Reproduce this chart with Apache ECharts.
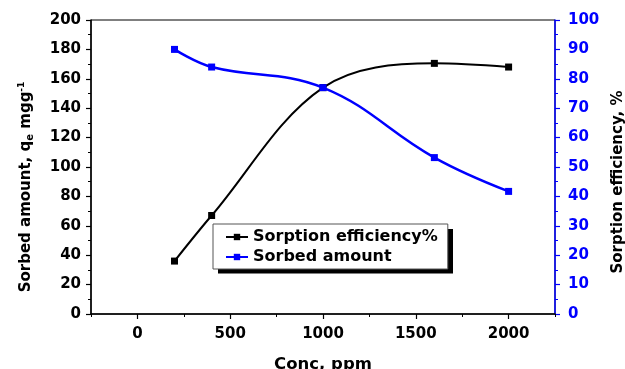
<!DOCTYPE html>
<html>
<head>
<meta charset="utf-8">
<script src="https://cdn.jsdelivr.net/npm/echarts@6/dist/echarts.min.js"></script>
<style>
  html, body { margin: 0; padding: 0; background: #fff; }
  #chart { width: 625px; height: 369px; }
</style>
</head>
<body>
<div id="chart"></div>
<script>
// Sorbed amount (left axis, mg/g) vs initial concentration
const sorbedConc = [200, 400, 1000, 1600, 2000];
const sorbedValues = [36, 67, 154, 170.5, 168];

// Sorption efficiency (right axis, %) vs initial concentration
const effConc = [200, 400, 1000, 1600, 2000];
const effValues = [90, 84, 77, 53.2, 41.7];

// Axis tick labels
const xMajorTicks = [0, 500, 1000, 1500, 2000];
const xMinorTicks = [-250, 250, 750, 1250, 1750, 2250];

const legendNames = ['Sorption efficiency%', 'Sorbed amount'];

const FONT = '"DejaVu Sans", sans-serif';
const BLUE = '#0000ff';

// legend frame geometry (pixels)
const LEGEND_BOX = { x: 213, y: 224, w: 235, h: 44.5 };

const chart = echarts.init(document.getElementById('chart'), null, { renderer: 'canvas' });

const pairs = (xs, ys) => xs.map((x, i) => [x, ys[i]]);
const plain = v => String(v);

chart.setOption({
  animation: false,
  backgroundColor: '#fff',
  grid: {
    left: 91, right: 70, top: 20, bottom: 55,
    containLabel: false, outerBoundsMode: 'none',
    show: true, borderColor: '#000', borderWidth: 1
  },
  graphic: [
    {
      // drop shadow behind the legend frame
      type: 'rect', z: 1, silent: true,
      shape: { x: LEGEND_BOX.x + 5, y: LEGEND_BOX.y + 5, width: LEGEND_BOX.w, height: LEGEND_BOX.h },
      style: { fill: '#000' }
    }
  ],
  legend: {
    left: LEGEND_BOX.x, top: LEGEND_BOX.y,
    orient: 'vertical',
    data: legendNames,
    itemWidth: 22, itemHeight: 8, itemGap: 4,
    padding: [5, 10, 4, 12],
    backgroundColor: '#fff',
    borderColor: '#555', borderWidth: 1,
    z: 5,
    textStyle: { fontFamily: FONT, fontWeight: 'bold', fontSize: 16, color: '#000', lineHeight: 16 }
  },
  xAxis: [
    {
      type: 'value', min: -250, max: 2250,
      name: 'Conc, ppm', nameLocation: 'middle', nameGap: 42,
      nameTextStyle: { fontFamily: FONT, fontWeight: 'bold', fontSize: 16.5, color: '#000' },
      axisLine: { show: true, onZero: false, lineStyle: { color: '#000', width: 1.5 } },
      axisTick: { show: true, inside: false, length: 5, customValues: xMajorTicks, lineStyle: { color: '#000', width: 1.2 } },
      axisLabel: { customValues: xMajorTicks, formatter: plain, margin: 13, fontFamily: FONT, fontWeight: 'bold', fontSize: 15, color: '#000' },
      splitLine: { show: false }
    },
    {
      type: 'value', min: -250, max: 2250, position: 'bottom',
      axisLine: { show: false, onZero: false },
      axisTick: { show: true, inside: false, length: 3, customValues: xMinorTicks, lineStyle: { color: '#000', width: 1 } },
      axisLabel: { show: false },
      splitLine: { show: false }
    }
  ],
  yAxis: [
    {
      type: 'value', min: 0, max: 200, interval: 20, position: 'left',
      name: 'Sorbed amount, q{sub|e} mgg{sup|-1}',
      nameLocation: 'middle', nameRotate: 90, nameGap: 56,
      nameTextStyle: {
        fontFamily: FONT, fontWeight: 'bold', fontSize: 15, color: '#000',
        padding: [0, 40, 0, 0],
        rich: {
          sub: { fontFamily: FONT, fontWeight: 'bold', fontSize: 10, color: '#000', verticalAlign: 'bottom', padding: [7, 0, 0, 0] },
          sup: { fontFamily: FONT, fontWeight: 'bold', fontSize: 9, color: '#000', verticalAlign: 'top', padding: [0, 0, 9, 0] }
        }
      },
      axisLine: { show: true, onZero: false, lineStyle: { color: '#000', width: 1.5 } },
      axisTick: { show: true, inside: false, length: 5, lineStyle: { color: '#000', width: 1.2 } },
      minorTick: { show: true, splitNumber: 2, length: 3, lineStyle: { color: '#000', width: 1 } },
      axisLabel: { margin: 10, formatter: plain, fontFamily: FONT, fontWeight: 'bold', fontSize: 15, color: '#000' },
      splitLine: { show: false }
    },
    {
      type: 'value', min: 0, max: 100, interval: 10, position: 'right',
      name: 'Sorption efficiency, %',
      nameLocation: 'middle', nameRotate: 90, nameGap: 46,
      nameTextStyle: {
        fontFamily: FONT, fontWeight: 'bold', fontSize: 15, color: '#000',
        padding: [0, 30, 0, 0]
      },
      axisLine: { show: true, onZero: false, lineStyle: { color: BLUE, width: 1.5 } },
      axisTick: { show: true, inside: false, length: 5, lineStyle: { color: BLUE, width: 1.2 } },
      minorTick: { show: true, splitNumber: 2, length: 3, lineStyle: { color: BLUE, width: 1 } },
      axisLabel: { margin: 13, formatter: plain, fontFamily: FONT, fontWeight: 'bold', fontSize: 15, color: BLUE },
      splitLine: { show: false }
    }
  ],
  series: [
    {
      name: legendNames[0],
      type: 'line', xAxisIndex: 0, yAxisIndex: 0,
      data: pairs(sorbedConc, sorbedValues),
      smooth: 0.35,
      symbol: 'rect', symbolSize: 7,
      lineStyle: { color: '#000', width: 2 },
      itemStyle: { color: '#000' },
      z: 3
    },
    {
      name: legendNames[1],
      type: 'line', xAxisIndex: 0, yAxisIndex: 1,
      data: pairs(effConc, effValues),
      smooth: 0.4,
      symbol: 'rect', symbolSize: 7,
      lineStyle: { color: BLUE, width: 2.5 },
      itemStyle: { color: BLUE },
      z: 4
    }
  ]
});
</script>
</body>
</html>
